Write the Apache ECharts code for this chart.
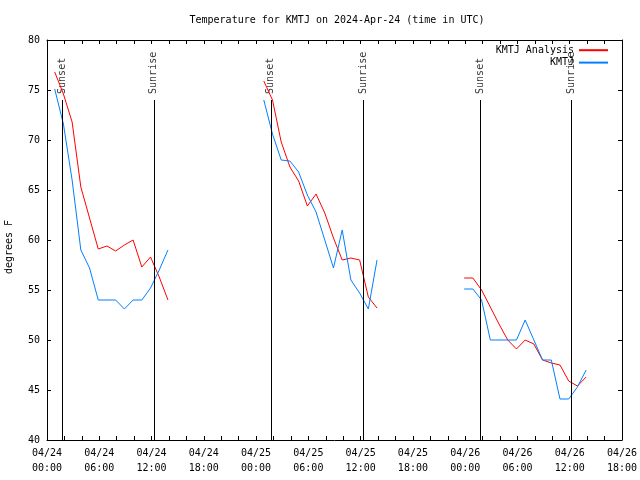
<!DOCTYPE html>
<html>
<head>
<meta charset="utf-8">
<script src="https://cdn.jsdelivr.net/npm/echarts@6/dist/echarts.min.js"></script>
<style>
html,body{margin:0;padding:0;background:#fff;}
#chart{width:640px;height:480px;}
</style>
</head>
<body>
<div id="chart"></div>
<script>
// ---- data (times in UTC) ----
const startTime = '2024-04-24T00:00Z';
const axisHours = [0, 6, 12, 18, 24, 30, 36, 42, 48, 54, 60, 66];

const times1 = ['2024-04-24T00:53Z','2024-04-24T01:53Z','2024-04-24T02:53Z','2024-04-24T03:53Z','2024-04-24T04:53Z','2024-04-24T05:53Z','2024-04-24T06:53Z','2024-04-24T07:53Z','2024-04-24T08:53Z','2024-04-24T09:53Z','2024-04-24T10:53Z','2024-04-24T11:53Z','2024-04-24T12:53Z','2024-04-24T13:53Z'];
const analysis1 = [76.8, 74.6, 71.8, 65.3, 62.2, 59.1, 59.4, 58.9, 59.5, 60.0, 57.3, 58.3, 56.3, 54.0];
const obs1      = [75.1, 71.6, 66.0, 59.0, 57.2, 54.0, 54.0, 54.0, 53.1, 54.0, 54.0, 55.2, 57.0, 59.0];

const times2 = ['2024-04-25T00:53Z','2024-04-25T01:53Z','2024-04-25T02:53Z','2024-04-25T03:53Z','2024-04-25T04:53Z','2024-04-25T05:53Z','2024-04-25T06:53Z','2024-04-25T07:53Z','2024-04-25T08:53Z','2024-04-25T09:53Z','2024-04-25T10:53Z','2024-04-25T11:53Z','2024-04-25T12:53Z','2024-04-25T13:53Z'];
const analysis2 = [75.9, 74.0, 69.8, 67.3, 65.9, 63.4, 64.6, 62.7, 60.2, 58.0, 58.2, 58.0, 54.3, 53.2];
const obs2      = [74.0, 70.6, 68.0, 67.9, 66.8, 64.5, 62.8, 60.0, 57.2, 61.0, 56.0, 54.7, 53.1, 58.0];

const times3 = ['2024-04-25T23:53Z','2024-04-26T00:53Z','2024-04-26T01:53Z','2024-04-26T02:53Z','2024-04-26T03:53Z','2024-04-26T04:53Z','2024-04-26T05:53Z','2024-04-26T06:53Z','2024-04-26T07:53Z','2024-04-26T08:53Z','2024-04-26T09:53Z','2024-04-26T10:53Z','2024-04-26T11:53Z','2024-04-26T12:53Z','2024-04-26T13:53Z'];
const analysis3 = [56.2, 56.2, 55.0, 53.3, 51.6, 50.0, 49.1, 50.0, 49.6, 48.0, 47.7, 47.5, 45.9, 45.4, 46.3];
const obs3      = [55.1, 55.1, 54.0, 50.0, 50.0, 50.0, 50.0, 52.0, 50.0, 48.0, 48.0, 44.1, 44.1, 45.3, 47.0];

const sunTimes  = ['2024-04-24T01:45Z','2024-04-24T12:16Z','2024-04-25T01:41Z','2024-04-25T12:16Z','2024-04-26T01:46Z','2024-04-26T12:12Z'];
const sunLabels = ['Sunset','Sunrise','Sunset','Sunrise','Sunset','Sunrise'];

// ---- helpers ----
const t0 = Date.parse(startTime);
const toH = s => (Date.parse(s) - t0) / 3600000;
const pair = (ts, vs) => ts.map((t, i) => [toH(t), vs[i]]);

const FONT = 'DejaVu Sans Mono';
const RED = '#ff0000', BLUE = '#0080ff';
const yMin = 40, yMax = 80, sunLineTop = 74;

function xLabel(v) {
  if (axisHours.indexOf(v) < 0) return '';
  const day = 24 + Math.floor(v / 24);
  const hh = v % 24;
  return '04/' + day + '\n' + (hh < 10 ? '0' : '') + hh + ':00';
}

const lineSeries = (name, color, data) => ({
  name, type: 'line', data, symbol: 'none', showSymbol: false,
  lineStyle: { color, width: 1 }, itemStyle: { color },
  animation: false, z: name === 'KMTJ' ? 4 : 3
});

const sunData = sunTimes.map((t, i) => ({ value: [toH(t), sunLineTop], name: sunLabels[i] }));

const option = {
  animation: false,
  backgroundColor: '#fff',
  title: {
    text: 'Temperature for KMTJ on 2024-Apr-24 (time in UTC)',
    left: 332, top: 10, textAlign: 'center',
    textStyle: { fontFamily: FONT, fontSize: 10, fontWeight: 'normal', color: '#000' }
  },
  legend: {
    data: ['KMTJ Analysis', 'KMTJ'],
    orient: 'vertical', align: 'right', padding: 0,
    right: 31, top: 45, itemGap: 2, itemWidth: 29, itemHeight: 13,
    itemStyle: { opacity: 0 },
    textStyle: { fontFamily: FONT, fontSize: 10, color: '#000' }
  },
  grid: { left: 47, right: 18, top: 40, bottom: 40, show: false, containLabel: false, outerBoundsMode: 'none' },
  xAxis: [{
    type: 'value', min: 0, max: 66, interval: 6,
    axisLine: { show: true, lineStyle: { color: '#000', width: 1 } },
    axisTick: { show: true, inside: true, length: 4, lineStyle: { color: '#000' } },
    minorTick: { show: true, splitNumber: 3, length: 4, lineStyle: { color: '#000' } },
    splitLine: { show: false },
    axisLabel: { formatter: xLabel, fontFamily: FONT, fontSize: 10, color: '#000', lineHeight: 15, margin: 6 }
  }, {
    type: 'value', min: 0, max: 66, interval: 6, position: 'top',
    axisLine: { show: true, onZero: false, lineStyle: { color: '#000', width: 1 } },
    axisTick: { show: true, inside: true, length: 4, lineStyle: { color: '#000' } },
    minorTick: { show: true, splitNumber: 3, length: 4, lineStyle: { color: '#000' } },
    splitLine: { show: false }, axisLabel: { show: false }
  }],
  yAxis: [{
    type: 'value', min: yMin, max: yMax, interval: 5,
    name: 'degrees F', nameLocation: 'middle', nameRotate: 90, nameGap: 33,
    nameTextStyle: { fontFamily: FONT, fontSize: 10, color: '#000', padding: [0, 14, 0, 0] },
    axisLine: { show: true, lineStyle: { color: '#000', width: 1 } },
    axisTick: { show: true, inside: true, length: 4, lineStyle: { color: '#000' } },
    splitLine: { show: false },
    axisLabel: { fontFamily: FONT, fontSize: 10, color: '#000', margin: 7 }
  }, {
    type: 'value', min: yMin, max: yMax, interval: 5, position: 'right',
    axisLine: { show: true, onZero: false, lineStyle: { color: '#000', width: 1 } },
    axisTick: { show: true, inside: true, length: 4, lineStyle: { color: '#000' } },
    splitLine: { show: false }, axisLabel: { show: false }
  }],
  series: [
    {
      name: 'sun', type: 'scatter', data: sunData, symbolSize: 0.1,
      itemStyle: { color: 'rgba(0,0,0,0)' }, z: 2,
      label: {
        show: true, formatter: p => p.name, position: 'top', distance: 6,
        rotate: 90, align: 'left', verticalAlign: 'middle',
        fontFamily: FONT, fontSize: 10, color: '#000'
      },
      markLine: {
        silent: true, symbol: ['none', 'none'], animation: false,
        label: { show: false },
        lineStyle: { color: '#000', width: 1, type: 'solid' },
        data: sunTimes.map(t => [{ coord: [toH(t), yMin] }, { coord: [toH(t), sunLineTop] }])
      }
    },
    lineSeries('KMTJ Analysis', RED, pair(times1, analysis1)),
    lineSeries('KMTJ Analysis', RED, pair(times2, analysis2)),
    lineSeries('KMTJ Analysis', RED, pair(times3, analysis3)),
    lineSeries('KMTJ', BLUE, pair(times1, obs1)),
    lineSeries('KMTJ', BLUE, pair(times2, obs2)),
    lineSeries('KMTJ', BLUE, pair(times3, obs3))
  ]
};

const chart = echarts.init(document.getElementById('chart'), null, { renderer: 'canvas' });
chart.setOption(option);
</script>
</body>
</html>
